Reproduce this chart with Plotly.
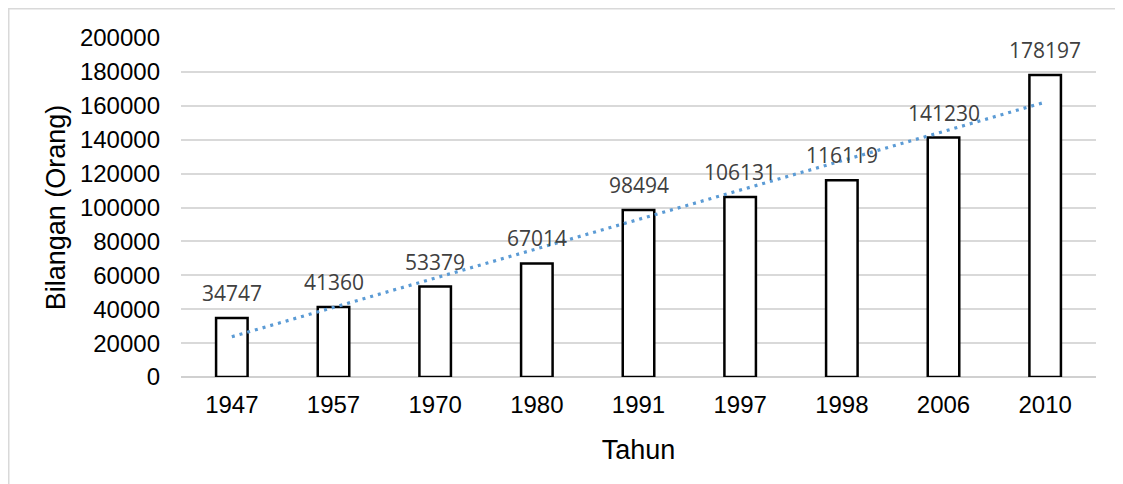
import numpy as np
import plotly.graph_objects as go

years = ["1947", "1957", "1970", "1980", "1991", "1997", "1998", "2006", "2010"]
population = [34747, 41360, 53379, 67014, 98494, 106131, 116119, 141230, 178197]
y_ticks = [0, 20000, 40000, 60000, 80000, 100000, 120000, 140000, 160000, 180000, 200000]

# linear trendline (as in the spreadsheet chart)
xi = np.arange(1, len(population) + 1)
slope, intercept = np.polyfit(xi, population, 1)
trend = slope * xi + intercept

fig = go.Figure()
fig.add_trace(go.Bar(
    x=years, y=population, width=0.31,
    marker=dict(color="white", line=dict(color="black", width=2.5)),
    showlegend=False, hoverinfo="skip",
))
fig.add_trace(go.Scatter(
    x=years, y=trend, mode="lines",
    line=dict(color="#5B9BD5", width=3.2, dash="3px,5px"),
    showlegend=False, hoverinfo="skip",
))

for i, v in enumerate(population):
    fig.add_annotation(x=i, y=v, text=str(v), showarrow=False,
                       yanchor="bottom", yshift=9,
                       font=dict(family="Open Sans", size=21, color="#404040"))

# the page body adds an 8px offset, so the figure is sized/shifted accordingly
W, H = 1115, 476
L, R, T, B = 173, 27, 30, 107
pw, ph = W - L - R, H - T - B
fig.add_shape(type="rect", xref="paper", yref="paper",
              x0=(0.75 - L) / pw, x1=(W + 5 - L) / pw,
              y0=-(B + 5) / ph, y1=(ph + T - 0.75) / ph,
              line=dict(color="#d9d9d9", width=1.5), fillcolor="rgba(0,0,0,0)", layer="below")

fig.update_layout(
    width=W, height=H,
    margin=dict(l=L, r=R, t=T, b=B),
    paper_bgcolor="white", plot_bgcolor="white",
    font=dict(family="Liberation Sans, Arial", color="black"),
    xaxis=dict(
        type="category", range=[-0.5, len(years) - 0.5],
        title=dict(text="Tahun", font=dict(size=27), standoff=23),
        tickfont=dict(size=24), showgrid=False, showline=False,
        ticks="", ticklabelstandoff=11,
    ),
    yaxis=dict(
        title=dict(text="Bilangan (Orang)", font=dict(size=27), standoff=6),
        tickfont=dict(size=24), range=[0, 200000], tickvals=y_ticks,
        ticktext=[str(t) for t in y_ticks],
        showgrid=True, gridcolor="#d9d9d9", gridwidth=1.5,
        zeroline=True, zerolinecolor="#d0d0d0", zerolinewidth=1.5,
        ticklabelstandoff=20,
    ),
)

fig.write_html("out.html")
